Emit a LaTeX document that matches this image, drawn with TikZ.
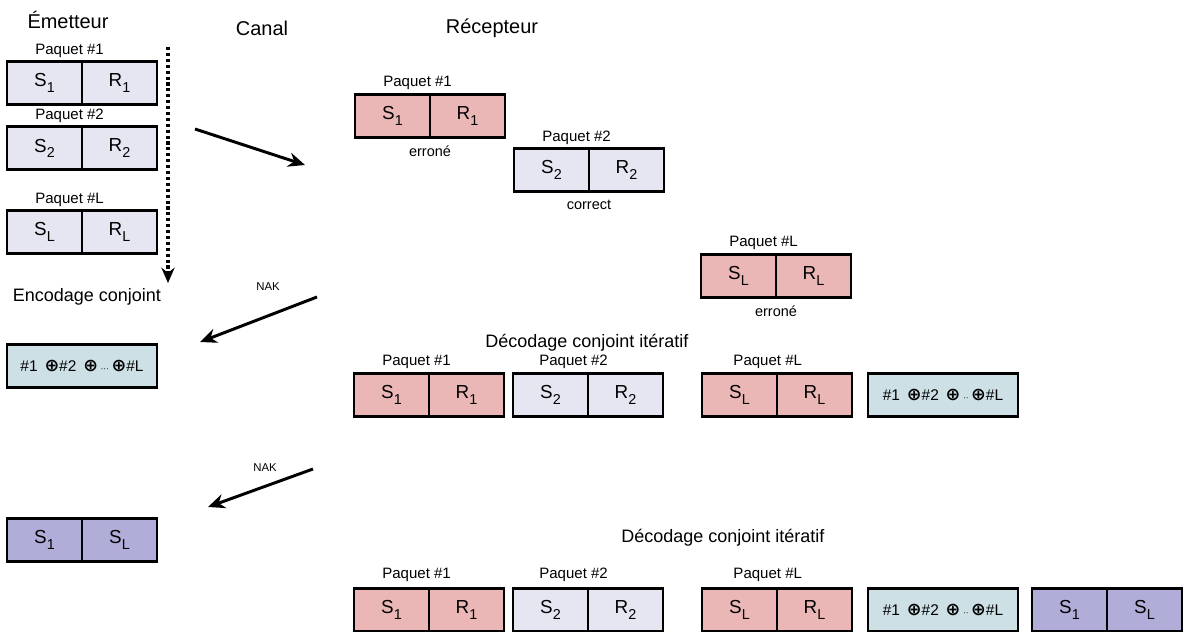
\documentclass[tikz,border=0pt]{standalone}
\usepackage{fontspec}
\setmainfont{Liberation Sans}
\newfontfamily\symfont{DejaVu Sans}
\usepackage{tikz}
\usetikzlibrary{positioning,arrows.meta}
\definecolor{lavande}{RGB}{230,230,242}
\definecolor{rose}{RGB}{235,182,182}
\definecolor{cyanpale}{RGB}{205,224,230}
\definecolor{mauve}{RGB}{177,173,217}
\newcommand{\ind}[2]{#1\raisebox{-4.2pt}{\fontsize{10.2}{11}\selectfont #2}}
\newcommand{\xorsum}[1]{\#1 \,{\symfont\bfseries\fontsize{12.5}{13}\selectfont ⊕}\#2 \,{\symfont\bfseries\fontsize{12.5}{13}\selectfont ⊕}\,{\fontsize{6}{7}\selectfont #1}\,{\symfont\bfseries\fontsize{12.5}{13}\selectfont ⊕}\#L}

\begin{document}
\begin{tikzpicture}[
  cell/.style={draw=black,line width=1pt,minimum width=1.875cm,minimum height=1.075cm,
    inner sep=0pt,outer sep=0pt,anchor=west,font=\fontsize{13.4}{15}\selectfont},
  wide/.style={cell,minimum width=3.75cm,font=\fontsize{11}{12}\selectfont},
  frame/.style={draw=black,line width=2.1pt},
  tag/.style={anchor=base west,inner sep=0pt,font=\fontsize{10.7}{12}\selectfont},
  state/.style={inner sep=0pt,font=\fontsize{10.3}{12}\selectfont},
  head/.style={font=\fontsize{14.2}{16}\selectfont},
  stage/.style={font=\fontsize{12.8}{15}\selectfont},
  nak/.style={font=\fontsize{8.1}{9}\selectfont},
  fleche/.style={-{Stealth[length=4.2mm,width=3.6mm]},line width=2.1pt}]
\useasboundingbox (0,0) rectangle (29.575,-15.8);
% titres
\node[head] (emet) at (1.7,-0.5) {Émetteur};
\node[head] (canal) at (6.55,-0.7) {Canal};
\node[head] (recep) at (12.3,-0.7) {Récepteur};
% emetteur
\node[cell,fill=lavande] (e1a) at (0.175,-2.075) {\ind{S}{1}};
\node[cell,fill=lavande,right=0pt of e1a] (e1b) {\ind{R}{1}};
\draw[frame] (e1a.north west) rectangle (e1b.south east);
\node[tag] (te1) at ([xshift=0.7cm,yshift=0.18cm]e1a.north west) {Paquet \#1};
\node[cell,fill=lavande] (e2a) at (0.175,-3.71) {\ind{S}{2}};
\node[cell,fill=lavande,right=0pt of e2a] (e2b) {\ind{R}{2}};
\draw[frame] (e2a.north west) rectangle (e2b.south east);
\node[tag] (te2) at ([xshift=0.7cm,yshift=0.18cm]e2a.north west) {Paquet \#2};
\node[cell,fill=lavande] (eLa) at (0.175,-5.8) {\ind{S}{L}};
\node[cell,fill=lavande,right=0pt of eLa] (eLb) {\ind{R}{L}};
\draw[frame] (eLa.north west) rectangle (eLb.south east);
\node[tag] (teL) at ([xshift=0.7cm,yshift=0.18cm]eLa.north west) {Paquet \#L};
\coordinate (d1) at (4.2,-1.175);
\coordinate (d2) at (4.2,-7.075);
\draw[line width=2.3pt,dash pattern=on 2.2pt off 2pt,-{Stealth[length=3.8mm,width=3.3mm]}] (d1) -- (d2);
\node[stage] (enc) at (2.175,-7.425) {Encodage conjoint};
\node[wide,fill=cyanpale] (xe) at (0.175,-9.16) {\xorsum{···}};
\draw[frame] (xe.north west) rectangle (xe.south east);
\node[cell,fill=mauve] (s1a) at (0.175,-13.5) {\ind{S}{1}};
\node[cell,fill=mauve,right=0pt of s1a] (s1b) {\ind{S}{L}};
\draw[frame] (s1a.north west) rectangle (s1b.south east);
% canal
\coordinate (a1s) at (4.875,-3.225);
\coordinate (a1e) at (7.625,-4.125);
\draw[fleche] (a1s) -- (a1e);
\coordinate (n1s) at (7.925,-7.425);
\coordinate (n1e) at (5.0,-8.55);
\draw[fleche] (n1s) -- (n1e);
\node[nak] (nak1) at (6.7,-7.175) {NAK};
\coordinate (n2s) at (7.825,-11.725);
\coordinate (n2e) at (5.2,-12.675);
\draw[fleche] (n2s) -- (n2e);
\node[nak] (nak2) at (6.625,-11.7) {NAK};
% recepteur
\node[cell,fill=rose] (r1a) at (8.875,-2.89) {\ind{S}{1}};
\node[cell,fill=rose,right=0pt of r1a] (r1b) {\ind{R}{1}};
\draw[frame] (r1a.north west) rectangle (r1b.south east);
\node[tag] (tr1) at ([xshift=0.7cm,yshift=0.18cm]r1a.north west) {Paquet \#1};
\node[state,below=0.2cm of r1a.south east] (er1) {erroné};
\node[cell,fill=lavande] (r2a) at (12.85,-4.25) {\ind{S}{2}};
\node[cell,fill=lavande,right=0pt of r2a] (r2b) {\ind{R}{2}};
\draw[frame] (r2a.north west) rectangle (r2b.south east);
\node[tag] (tr2) at ([xshift=0.7cm,yshift=0.18cm]r2a.north west) {Paquet \#2};
\node[state,below=0.2cm of r2a.south east] (ok2) {correct};
\node[cell,fill=rose] (rLa) at (17.525,-6.89) {\ind{S}{L}};
\node[cell,fill=rose,right=0pt of rLa] (rLb) {\ind{R}{L}};
\draw[frame] (rLa.north west) rectangle (rLb.south east);
\node[tag] (trL) at ([xshift=0.7cm,yshift=0.18cm]rLa.north west) {Paquet \#L};
\node[state,below=0.2cm of rLa.south east] (erL) {erroné};
% premier decodage
\node[stage] (dec1) at (14.675,-8.575) {Décodage conjoint itératif};
\node[cell,fill=rose] (p1a) at (8.85,-9.875) {\ind{S}{1}};
\node[cell,fill=rose,right=0pt of p1a] (p1b) {\ind{R}{1}};
\draw[frame] (p1a.north west) rectangle (p1b.south east);
\node[tag] (tp1) at ([xshift=0.7cm,yshift=0.2cm]p1a.north west) {Paquet \#1};
\node[cell,fill=lavande] (p2a) at (12.825,-9.875) {\ind{S}{2}};
\node[cell,fill=lavande,right=0pt of p2a] (p2b) {\ind{R}{2}};
\draw[frame] (p2a.north west) rectangle (p2b.south east);
\node[tag] (tp2) at ([xshift=0.65cm,yshift=0.2cm]p2a.north west) {Paquet \#2};
\node[cell,fill=rose] (pLa) at (17.55,-9.875) {\ind{S}{L}};
\node[cell,fill=rose,right=0pt of pLa] (pLb) {\ind{R}{L}};
\draw[frame] (pLa.north west) rectangle (pLb.south east);
\node[tag] (tpL) at ([xshift=0.78cm,yshift=0.2cm]pLa.north west) {Paquet \#L};
\node[wide,fill=cyanpale] (xp) at (21.7,-9.875) {\xorsum{··}};
\draw[frame] (xp.north west) rectangle (xp.south east);
% second decodage
\node[stage] (dec2) at (18.075,-13.45) {Décodage conjoint itératif};
\node[cell,fill=rose] (q1a) at (8.85,-15.24) {\ind{S}{1}};
\node[cell,fill=rose,right=0pt of q1a] (q1b) {\ind{R}{1}};
\draw[frame] (q1a.north west) rectangle (q1b.south east);
\node[tag] (tq1) at ([xshift=0.7cm,yshift=0.25cm]q1a.north west) {Paquet \#1};
\node[cell,fill=lavande] (q2a) at (12.825,-15.24) {\ind{S}{2}};
\node[cell,fill=lavande,right=0pt of q2a] (q2b) {\ind{R}{2}};
\draw[frame] (q2a.north west) rectangle (q2b.south east);
\node[tag] (tq2) at ([xshift=0.65cm,yshift=0.25cm]q2a.north west) {Paquet \#2};
\node[cell,fill=rose] (qLa) at (17.55,-15.24) {\ind{S}{L}};
\node[cell,fill=rose,right=0pt of qLa] (qLb) {\ind{R}{L}};
\draw[frame] (qLa.north west) rectangle (qLb.south east);
\node[tag] (tqL) at ([xshift=0.78cm,yshift=0.25cm]qLa.north west) {Paquet \#L};
\node[wide,fill=cyanpale] (xq) at (21.7,-15.24) {\xorsum{··}};
\draw[frame] (xq.north west) rectangle (xq.south east);
\node[cell,fill=mauve] (m1a) at (25.8,-15.24) {\ind{S}{1}};
\node[cell,fill=mauve,right=0pt of m1a] (m1b) {\ind{S}{L}};
\draw[frame] (m1a.north west) rectangle (m1b.south east);
\end{tikzpicture}
\end{document}
